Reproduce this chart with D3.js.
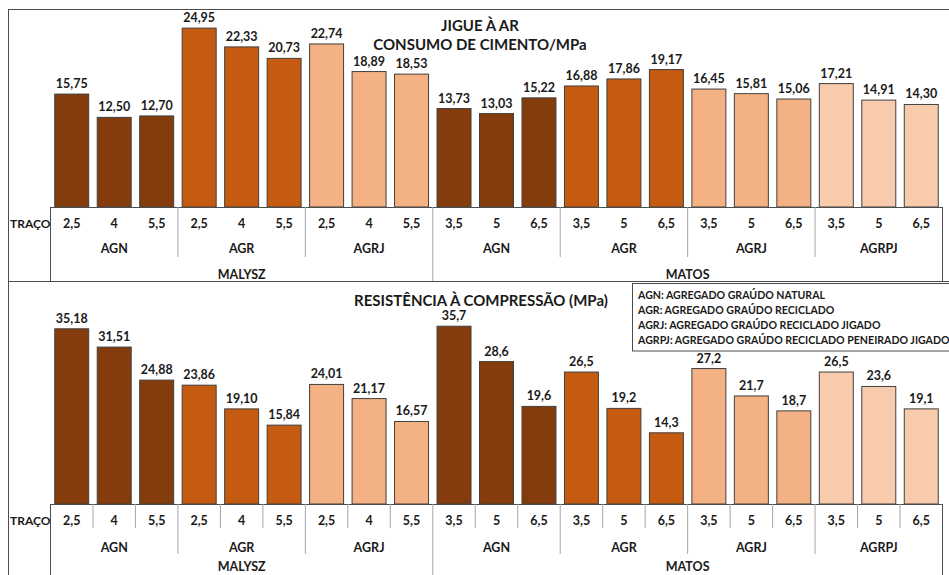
<!DOCTYPE html>
<html>
<head>
<meta charset="utf-8">
<script src="https://cdn.jsdelivr.net/npm/d3@7"></script>
<style>
  html, body { margin: 0; padding: 0; background: #fff; }
  svg { display: block; }
  text { font-family: Lato, "Open Sans", sans-serif; font-weight: 700; fill: #1a1a1a; }
</style>
</head>
<body>
<svg id="chart" width="949" height="575"></svg>
<script>
// Mix proportions (traço) for each bar
const tracos = ["2,5","4","5,5","2,5","4","5,5","2,5","4","5,5",
                "3,5","5","6,5","3,5","5","6,5","3,5","5","6,5","3,5","5","6,5"];
// Aggregate type for each group of three bars
const groupLabels = ["AGN","AGR","AGRJ","AGN","AGR","AGRJ","AGRPJ"];
// Study authors and how many groups each covers
const authors = ["MALYSZ","MATOS"];
const authorGroups = [3, 4];
const authorDecimals = [2, 1];

// Cement consumption per MPa (jig washed aggregate)
const consumo = [15.75,12.50,12.70,24.95,22.33,20.73,22.74,18.89,18.53,
                 13.73,13.03,15.22,16.88,17.86,19.17,16.45,15.81,15.06,17.21,14.91,14.30];
// Compressive strength (MPa)
const resistencia = [35.18,31.51,24.88,23.86,19.10,15.84,24.01,21.17,16.57,
                     35.7,28.6,19.6,26.5,19.2,14.3,27.2,21.7,18.7,26.5,23.6,19.1];

const legendLines = [
  "AGN: AGREGADO GRAÚDO NATURAL",
  "AGR: AGREGADO GRAÚDO RECICLADO",
  "AGRJ: AGREGADO GRAÚDO RECICLADO JIGADO",
  "AGRPJ: AGREGADO GRAÚDO RECICLADO PENEIRADO JIGADO"
];

const fillFor = { AGN: "#843c0c", AGR: "#c55a11", AGRJ: "#f4b183", AGRPJ: "#f8cbad" };

const svg = d3.select("#chart");
const frame = "#4d4d4d";
const sep = "#a6a6a6";

const idx = d3.range(tracos.length);
const barGroup = idx.map(i => Math.floor(i / 3));
const groupAuthor = [];
authorGroups.forEach((n, a) => { for (let k = 0; k < n; k++) groupAuthor.push(a); });

const x = d3.scaleBand().domain(idx).range([50.5, 942.5]).paddingInner(0.2).paddingOuter(0.1);
const step = x.step();
const bandLeft = i => 50.5 + i * step;

function fmt(v, d) { return v.toFixed(d).replace(".", ","); }

// Outer frame
svg.append("line").attr("x1", 8).attr("x2", 949).attr("y1", 9.5).attr("y2", 9.5).attr("stroke", frame);
svg.append("line").attr("x1", 8.5).attr("x2", 8.5).attr("y1", 9).attr("y2", 575).attr("stroke", frame);
svg.append("line").attr("x1", 8).attr("x2", 949).attr("y1", 281.5).attr("y2", 281.5).attr("stroke", frame);

function panel(cfg) {
  const g = svg.append("g");
  const y = d3.scaleLinear().domain(cfg.domain).range([cfg.base, cfg.topY]);

  // Bars
  g.selectAll("rect.bar").data(idx).join("rect")
    .attr("class", "bar")
    .attr("x", i => x(i))
    .attr("width", x.bandwidth())
    .attr("y", i => y(cfg.values[i]))
    .attr("height", i => y(0) - y(cfg.values[i]))
    .attr("fill", i => fillFor[groupLabels[barGroup[i]]])
    .attr("stroke", "#404040")
    .attr("stroke-width", 1);

  // Value labels
  g.selectAll("text.val").data(idx).join("text")
    .attr("class", "val")
    .attr("x", i => x(i) + x.bandwidth() / 2)
    .attr("y", i => y(cfg.values[i]) - 6)
    .attr("text-anchor", "middle")
    .attr("font-size", 12.5)
    .text(i => fmt(cfg.values[i], cfg.decimals(i)));

  // Category table lines
  const xL = 50.5, xR = 942.5;
  g.append("line").attr("x1", xL).attr("x2", xR).attr("y1", cfg.base + 0.5).attr("y2", cfg.base + 0.5).attr("stroke", frame);
  g.append("line").attr("x1", xL).attr("x2", xL).attr("y1", cfg.base).attr("y2", cfg.bottom).attr("stroke", frame);
  g.append("line").attr("x1", xR).attr("x2", xR).attr("y1", cfg.base).attr("y2", cfg.bottom).attr("stroke", frame);

  if (cfg.cellLines) {
    idx.filter(i => i % 3 !== 0).forEach(i => {
      g.append("line").attr("x1", bandLeft(i)).attr("x2", bandLeft(i))
        .attr("y1", cfg.base).attr("y2", cfg.rowTraco).attr("stroke", sep);
    });
  }
  groupLabels.forEach((lab, gi) => {
    if (gi === 0) return;
    const xx = bandLeft(gi * 3);
    const isAuthorEdge = groupAuthor[gi] !== groupAuthor[gi - 1];
    g.append("line").attr("x1", xx).attr("x2", xx)
      .attr("y1", cfg.base).attr("y2", isAuthorEdge ? cfg.bottom : cfg.rowGroup)
      .attr("stroke", sep);
  });

  // Traço row
  g.append("text").attr("x", 10).attr("y", cfg.tracoY).attr("font-size", 12).text("TRAÇO");
  g.selectAll("text.tr").data(idx).join("text")
    .attr("class", "tr")
    .attr("x", i => bandLeft(i) + step / 2)
    .attr("y", cfg.tracoY)
    .attr("text-anchor", "middle")
    .attr("font-size", 12.5)
    .text(i => tracos[i]);

  // Aggregate row
  g.selectAll("text.grp").data(groupLabels).join("text")
    .attr("class", "grp")
    .attr("x", (d, gi) => bandLeft(gi * 3) + step * 1.5)
    .attr("y", cfg.groupY)
    .attr("text-anchor", "middle")
    .attr("font-size", 12.5)
    .text(d => d);

  // Author row
  let start = 0;
  authors.forEach((a, ai) => {
    const n = authorGroups[ai] * 3;
    g.append("text")
      .attr("x", bandLeft(start) + n * step / 2)
      .attr("y", cfg.authorY)
      .attr("text-anchor", "middle")
      .attr("font-size", 12.5)
      .text(a);
    start += n;
  });

  // Titles
  cfg.titles.forEach(t => {
    g.append("text").attr("x", t.x).attr("y", t.y).attr("text-anchor", "middle")
      .attr("font-size", 15).text(t.text);
  });
  return g;
}

panel({
  values: consumo,
  domain: [0, 25], base: 207, topY: 207 - 25 * 7.17,
  decimals: () => 2,
  cellLines: false,
  rowTraco: 232, rowGroup: 257, bottom: 281,
  tracoY: 228, groupY: 253, authorY: 279,
  titles: [{ text: "JIGUE À AR", x: 480, y: 31 }, { text: "CONSUMO DE CIMENTO/MPa", x: 480, y: 50 }]
});

panel({
  values: resistencia,
  domain: [0, 36], base: 504, topY: 504 - 36 * 4.98,
  decimals: i => authorDecimals[groupAuthor[barGroup[i]]],
  cellLines: true,
  rowTraco: 528, rowGroup: 554, bottom: 575,
  tracoY: 525, groupY: 551.5, authorY: 571,
  titles: [{ text: "RESISTÊNCIA À COMPRESSÃO (MPa)", x: 481, y: 306 }]
});

// Legend box
const lg = svg.append("g");
lg.append("rect").attr("x", 632.5).attr("y", 283.5).attr("width", 330).attr("height", 67.5)
  .attr("fill", "#fff").attr("stroke", frame);
lg.selectAll("text").data(legendLines).join("text")
  .attr("x", 638).attr("y", (d, i) => 299 + i * 15)
  .attr("font-size", 10.6).text(d => d);
</script>
</body>
</html>
